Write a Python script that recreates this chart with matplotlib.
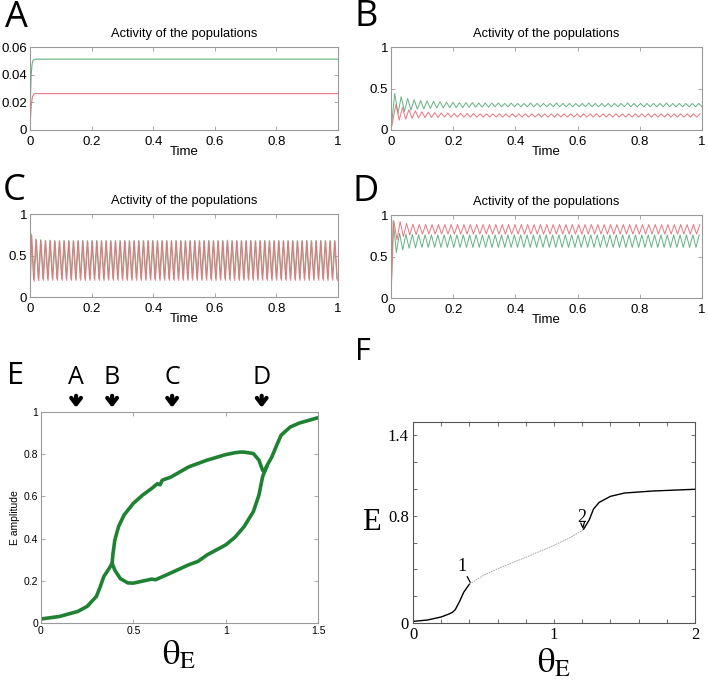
import numpy as np
import matplotlib
matplotlib.use("Agg")
import matplotlib.pyplot as plt

plt.rcParams['font.family'] = ['Liberation Sans', 'DejaVu Sans']
plt.rcParams['mathtext.fontset'] = 'stix'

# ---------------- data ----------------
# Panel A (steady state)
a_t = [0, 0.002, 0.004, 0.006, 0.008, 0.011, 0.015, 0.02, 0.03, 1.0]
a_green = [0, 0.028, 0.040, 0.046, 0.049, 0.0505, 0.0510, 0.0512, 0.0512, 0.0512]
a_red = [0, 0.010, 0.017, 0.021, 0.024, 0.0255, 0.0262, 0.0263, 0.0263, 0.0263]

# Panel B (damped oscillation) - extrema
b_period = 0.0208
b_green_first, b_red_first = 0.012, 0.016
b_green_peaks = [0.44, 0.40, 0.38, 0.365, 0.355, 0.35, 0.345, 0.34, 0.335, 0.335,
                 0.33, 0.33, 0.33, 0.325, 0.325, 0.325, 0.325, 0.32, 0.325, 0.32,
                 0.32, 0.325, 0.32, 0.32, 0.32, 0.325, 0.32, 0.32, 0.32, 0.32,
                 0.325, 0.32, 0.32, 0.32, 0.32, 0.32, 0.325, 0.32, 0.32, 0.32,
                 0.32, 0.32, 0.325, 0.32, 0.32, 0.32, 0.32, 0.32]
b_green_troughs = [0.20, 0.225, 0.24, 0.25, 0.255, 0.26, 0.265, 0.265, 0.27, 0.27,
                   0.27, 0.275, 0.275, 0.275, 0.275, 0.28, 0.28, 0.28, 0.28, 0.28,
                   0.28, 0.28, 0.28, 0.28, 0.28, 0.28, 0.28, 0.28, 0.28, 0.28,
                   0.28, 0.28, 0.28, 0.28, 0.28, 0.28, 0.28, 0.28, 0.28, 0.28,
                   0.28, 0.28, 0.28, 0.28, 0.28, 0.28, 0.28, 0.28]
b_red_peaks = [0.31, 0.27, 0.245, 0.23, 0.22, 0.215, 0.21, 0.205, 0.205, 0.20,
               0.20, 0.20, 0.20, 0.195, 0.195, 0.195, 0.195, 0.195, 0.195, 0.195,
               0.195, 0.195, 0.195, 0.195, 0.195, 0.195, 0.195, 0.195, 0.195, 0.195,
               0.195, 0.195, 0.195, 0.195, 0.195, 0.195, 0.195, 0.195, 0.195, 0.195,
               0.195, 0.195, 0.195, 0.195, 0.195, 0.195, 0.195, 0.195]
b_red_troughs = [0.12, 0.13, 0.14, 0.145, 0.15, 0.15, 0.15, 0.155, 0.155, 0.155,
                 0.155, 0.155, 0.155, 0.155, 0.155, 0.155, 0.155, 0.155, 0.155, 0.155,
                 0.155, 0.155, 0.155, 0.155, 0.155, 0.155, 0.155, 0.155, 0.155, 0.155,
                 0.155, 0.155, 0.155, 0.155, 0.155, 0.155, 0.155, 0.155, 0.155, 0.155,
                 0.155, 0.155, 0.155, 0.155, 0.155, 0.155, 0.155, 0.155]

# Panel C (sustained oscillation)
c_period = 0.01515
c_green_first, c_red_first = 0.004, 0.0058
c_green_peaks = [0.76, 0.70, 0.69, 0.685, 0.685, 0.68, 0.68, 0.68, 0.68, 0.68,
                 0.68, 0.68, 0.68, 0.68, 0.68, 0.68, 0.68, 0.68, 0.68, 0.68,
                 0.68, 0.68, 0.68, 0.68, 0.68, 0.68, 0.68, 0.68, 0.68, 0.68,
                 0.68, 0.68, 0.68, 0.68, 0.68, 0.68, 0.68, 0.68, 0.68, 0.68,
                 0.68, 0.68, 0.685, 0.68, 0.68, 0.68, 0.68, 0.68, 0.68, 0.68,
                 0.68, 0.68, 0.68, 0.68, 0.68, 0.68, 0.68, 0.68, 0.68, 0.68,
                 0.68, 0.68, 0.68, 0.68, 0.68, 0.68]
c_green_troughs = [0.21, 0.215, 0.22, 0.22, 0.22, 0.22, 0.22, 0.22, 0.22, 0.22,
                   0.22, 0.22, 0.22, 0.22, 0.22, 0.22, 0.22, 0.22, 0.22, 0.22,
                   0.22, 0.22, 0.22, 0.22, 0.22, 0.22, 0.22, 0.22, 0.22, 0.22,
                   0.22, 0.22, 0.22, 0.22, 0.22, 0.22, 0.22, 0.22, 0.22, 0.22,
                   0.22, 0.22, 0.22, 0.22, 0.22, 0.22, 0.22, 0.22, 0.22, 0.22,
                   0.22, 0.22, 0.22, 0.22, 0.22, 0.22, 0.22, 0.22, 0.22, 0.22,
                   0.22, 0.22, 0.22, 0.22, 0.22, 0.22]
c_red_peaks = [0.74, 0.69, 0.68, 0.675, 0.675, 0.675, 0.675, 0.675, 0.675, 0.675,
               0.675, 0.675, 0.675, 0.675, 0.675, 0.675, 0.675, 0.675, 0.675, 0.675,
               0.675, 0.675, 0.675, 0.675, 0.675, 0.675, 0.675, 0.675, 0.675, 0.675,
               0.675, 0.675, 0.675, 0.675, 0.675, 0.675, 0.675, 0.675, 0.675, 0.675,
               0.675, 0.675, 0.675, 0.675, 0.675, 0.675, 0.675, 0.675, 0.675, 0.675,
               0.675, 0.675, 0.675, 0.675, 0.675, 0.675, 0.675, 0.675, 0.675, 0.675,
               0.675, 0.675, 0.675, 0.675, 0.675, 0.675]
c_red_troughs = [0.19, 0.195, 0.20, 0.20, 0.20, 0.20, 0.20, 0.20, 0.20, 0.20,
                 0.20, 0.20, 0.20, 0.20, 0.20, 0.20, 0.20, 0.20, 0.20, 0.20,
                 0.20, 0.20, 0.20, 0.20, 0.20, 0.20, 0.20, 0.20, 0.20, 0.20,
                 0.20, 0.20, 0.20, 0.20, 0.20, 0.20, 0.20, 0.20, 0.20, 0.20,
                 0.20, 0.20, 0.20, 0.20, 0.20, 0.20, 0.20, 0.20, 0.20, 0.20,
                 0.20, 0.20, 0.20, 0.20, 0.20, 0.20, 0.20, 0.20, 0.20, 0.20,
                 0.20, 0.20, 0.20, 0.20, 0.20, 0.20]

# Panel D (high-activity oscillation)
d_period = 0.0205
d_green_first, d_red_first = 0.007, 0.009
d_green_peaks = [0.93, 0.78, 0.77, 0.765, 0.76, 0.76, 0.76, 0.76, 0.76, 0.76,
                 0.76, 0.76, 0.76, 0.76, 0.76, 0.76, 0.76, 0.76, 0.76, 0.76,
                 0.76, 0.76, 0.76, 0.76, 0.76, 0.76, 0.76, 0.76, 0.76, 0.76,
                 0.76, 0.76, 0.76, 0.76, 0.76, 0.76, 0.76, 0.76, 0.76, 0.76,
                 0.76, 0.76, 0.76, 0.76, 0.76, 0.76, 0.76, 0.76, 0.76]
d_green_troughs = [0.55, 0.58, 0.60, 0.605, 0.61, 0.61, 0.61, 0.61, 0.61, 0.61,
                   0.61, 0.61, 0.61, 0.61, 0.61, 0.61, 0.61, 0.61, 0.61, 0.61,
                   0.61, 0.61, 0.61, 0.61, 0.61, 0.61, 0.61, 0.61, 0.61, 0.61,
                   0.61, 0.61, 0.61, 0.61, 0.61, 0.61, 0.61, 0.61, 0.61, 0.61,
                   0.61, 0.61, 0.61, 0.61, 0.61, 0.61, 0.61, 0.61]
d_red_peaks = [0.93, 0.92, 0.90, 0.89, 0.885, 0.885, 0.885, 0.885, 0.885, 0.885,
               0.885, 0.885, 0.885, 0.885, 0.885, 0.885, 0.885, 0.885, 0.885, 0.885,
               0.885, 0.885, 0.885, 0.885, 0.885, 0.885, 0.885, 0.885, 0.885, 0.885,
               0.885, 0.885, 0.885, 0.885, 0.885, 0.885, 0.885, 0.885, 0.885, 0.885,
               0.885, 0.885, 0.885, 0.885, 0.885, 0.885, 0.885, 0.885, 0.885]
d_red_troughs = [0.70, 0.74, 0.76, 0.765, 0.77, 0.77, 0.77, 0.77, 0.77, 0.77,
                 0.77, 0.77, 0.77, 0.77, 0.77, 0.77, 0.77, 0.77, 0.77, 0.77,
                 0.77, 0.77, 0.77, 0.77, 0.77, 0.77, 0.77, 0.77, 0.77, 0.77,
                 0.77, 0.77, 0.77, 0.77, 0.77, 0.77, 0.77, 0.77, 0.77, 0.77,
                 0.77, 0.77, 0.77, 0.77, 0.77, 0.77, 0.77, 0.77]

# Panel E (amplitude diagram)
e_lower_x = [0, 0.1, 0.2, 0.25, 0.3, 0.32, 0.34, 0.37, 0.385, 0.4, 0.43, 0.47, 0.5,
             0.6, 0.62, 0.7, 0.8, 0.85, 0.9, 1.0, 1.05, 1.1, 1.15, 1.18, 1.2, 1.22,
             1.25, 1.28, 1.3, 1.35, 1.4, 1.5]
e_lower_y = [0.019, 0.031, 0.055, 0.079, 0.126, 0.17, 0.22, 0.26, 0.283, 0.25, 0.21,
             0.19, 0.189, 0.208, 0.205, 0.236, 0.276, 0.292, 0.323, 0.37, 0.406, 0.457,
             0.528, 0.606, 0.693, 0.74, 0.787, 0.85, 0.89, 0.929, 0.948, 0.973]
e_upper_x = [0.385, 0.39, 0.4, 0.42, 0.45, 0.5, 0.55, 0.6, 0.63, 0.645, 0.655, 0.665,
             0.7, 0.72, 0.8, 0.9, 1.0, 1.05, 1.08, 1.1, 1.15, 1.18, 1.2, 1.21, 1.225]
e_upper_y = [0.283, 0.33, 0.394, 0.457, 0.512, 0.567, 0.606, 0.638, 0.66, 0.655, 0.675,
             0.68, 0.69, 0.70, 0.74, 0.772, 0.798, 0.807, 0.81, 0.81, 0.803, 0.772,
             0.724, 0.717, 0.745]
e_marks = ['A', 'B', 'C', 'D']
e_mark_x = [0.19, 0.385, 0.71, 1.195]

# Panel F (bifurcation diagram)
f_stable1_x = [0, 0.1, 0.2, 0.25, 0.28, 0.3, 0.33, 0.36, 0.4]
f_stable1_y = [0.012, 0.022, 0.045, 0.065, 0.08, 0.1, 0.16, 0.23, 0.29]
f_unstable_x = [0.4, 0.5, 0.6, 0.8, 1.0, 1.1, 1.2, 1.21]
f_unstable_y = [0.29, 0.356, 0.405, 0.49, 0.58, 0.63, 0.69, 0.70]
f_stable2_x = [1.21, 1.25, 1.28, 1.32, 1.4, 1.5, 1.7, 2.0]
f_stable2_y = [0.70, 0.77, 0.85, 0.90, 0.945, 0.97, 0.985, 0.998]


def zigzag(t_first, period, peaks, troughs):
    t, y = [0.0], [0.0]
    for k in range(max(len(peaks), len(troughs))):
        tp = t_first + k * period
        if k < len(peaks) and tp <= 1.0:
            t.append(tp); y.append(peaks[k])
        tt = tp + period / 2
        if k < len(troughs) and tt <= 1.0:
            t.append(tt); y.append(troughs[k])
    return t, y


GREEN = '#62b282'
RED = '#ea7580'
FRAME = '#9a9a9a'

fig = plt.figure(figsize=(7.08, 6.82), dpi=100)
W, H = 708.0, 682.0


def ax_px(l, t, r, b):
    return fig.add_axes([l / W, 1 - b / H, (r - l) / W, (b - t) / H])


def style_ts(ax, yticks, ylabels):
    ax.set_xlim(0, 1)
    ax.set_xticks([0, 0.2, 0.4, 0.6, 0.8, 1])
    ax.set_xticklabels(['0', '0.2', '0.4', '0.6', '0.8', '1'])
    ax.set_yticks(yticks)
    ax.set_yticklabels(ylabels)
    ax.tick_params(direction='in', top=True, right=True, length=3, width=0.6,
                   labelsize=9.5, colors='black', pad=2)
    ax.tick_params(axis='x', pad=4)
    for s in ax.spines.values():
        s.set_color(FRAME); s.set_linewidth(0.8)
    ax.tick_params(color=FRAME)
    ax.set_title('Activity of the populations', fontsize=9.3, pad=7)
    ax.set_xlabel('Time', fontsize=9.5, labelpad=-1)


# A
axA = ax_px(30, 47, 338, 130)
axA.plot(a_t, a_green, color=GREEN, lw=0.8)
axA.plot(a_t, a_red, color=RED, lw=0.8)
axA.set_ylim(0, 0.06)
style_ts(axA, [0, 0.02, 0.04, 0.06], ['0', '0.02', '0.04', '0.06'])

# B
axB = ax_px(391, 47, 702, 130)
axB.plot(*zigzag(b_green_first, b_period, b_green_peaks, b_green_troughs), color=GREEN, lw=0.7)
axB.plot(*zigzag(b_red_first, b_period, b_red_peaks, b_red_troughs), color=RED, lw=0.7)
axB.set_ylim(0, 1)
style_ts(axB, [0, 0.5, 1], ['0', '0.5', '1'])

# C
axC = ax_px(30, 214, 338, 297)
axC.plot(*zigzag(c_green_first, c_period, c_green_peaks, c_green_troughs), color=GREEN, lw=0.7)
axC.plot(*zigzag(c_red_first, c_period, c_red_peaks, c_red_troughs), color=RED, lw=0.7)
axC.set_ylim(0, 1)
style_ts(axC, [0, 0.5, 1], ['0', '0.5', '1'])

# D
axD = ax_px(391, 215, 702, 298)
axD.plot(*zigzag(d_green_first, d_period, d_green_peaks, d_green_troughs), color=GREEN, lw=0.7)
axD.plot(*zigzag(d_red_first, d_period, d_red_peaks, d_red_troughs), color=RED, lw=0.7)
axD.set_ylim(0, 1)
style_ts(axD, [0, 0.5, 1], ['0', '0.5', '1'])

THETA = r'$\mathrm{\theta}_{\mathrm{E}}$'

# E
axE = ax_px(41, 412, 318, 623)
axE.plot(e_lower_x, e_lower_y, color='#1f8232', lw=2.6, solid_capstyle='round')
axE.plot(e_upper_x, e_upper_y, color='#1f8232', lw=2.6, solid_capstyle='round')
axE.set_xlim(0, 1.5)
axE.set_ylim(0, 1)
axE.set_xticks([0, 0.5, 1, 1.5])
axE.set_xticklabels(['0', '0.5', '1', '1.5'])
axE.set_yticks([0, 0.2, 0.4, 0.6, 0.8, 1])
axE.set_yticklabels(['0', '0.2', '0.4', '0.6', '0.8', '1'])
axE.tick_params(direction='in', top=True, right=True, length=3, width=0.6,
                labelsize=7.5, color=FRAME, pad=2)
for s in axE.spines.values():
    s.set_color(FRAME); s.set_linewidth(0.8)
axE.set_ylabel('E amplitude', fontsize=7.5, labelpad=3)
axE.set_xlabel(THETA, fontsize=25, labelpad=2)
for m, xm in zip(e_marks, e_mark_x):
    axE.annotate('', xy=(xm, 1.008), xycoords=('data', 'axes fraction'),
                 xytext=(xm, 1.09), textcoords=('data', 'axes fraction'),
                 arrowprops=dict(arrowstyle='->,head_length=0.45,head_width=0.35',
                                 lw=3.0, color='black'),
                 annotation_clip=False)
    axE.text(xm, 1.165, m, transform=axE.get_xaxis_transform(), ha='center',
             va='center', fontsize=18, family=['Open Sans', 'DejaVu Sans'])

# F
axF = ax_px(413, 422, 695, 623)
axF.plot(f_stable1_x, f_stable1_y, color='black', lw=1.0)
axF.plot(f_unstable_x, f_unstable_y, color='#999999', lw=0.6, ls=(0, (2, 1)))
axF.plot(f_stable2_x, f_stable2_y, color='black', lw=1.0)
axF.set_xlim(0, 2)
axF.set_ylim(0, 1.5)
fx = [0, 0.2, 0.4, 0.6, 0.8, 1.0, 1.2, 1.4, 1.6, 1.8, 2.0]
axF.set_xticks(fx)
axF.set_xticklabels(['0', '', '', '', '', '1', '', '', '', '', '2'])
fy = [0, 0.2, 0.4, 0.6, 0.8, 1.0, 1.2, 1.4]
axF.set_yticks(fy)
axF.set_yticklabels(['0', '', '', '', '0.8', '', '', '1.4'])
axF.tick_params(direction='in', top=True, right=True, length=3, width=0.6,
                labelsize=12, color='#555555', pad=3)
for lab in axF.get_xticklabels() + axF.get_yticklabels():
    lab.set_family(['Liberation Serif', 'DejaVu Serif'])
for s in axF.spines.values():
    s.set_color('#555555'); s.set_linewidth(0.8)
axF.set_ylabel('E', fontsize=22, rotation=0, labelpad=12, va='center',
               family=['Liberation Serif', 'DejaVu Serif'])
axF.set_xlabel(THETA, fontsize=25, labelpad=2)
axF.text(0.345, 0.42, '1', fontsize=13, ha='center', va='center',
         family=['Liberation Serif', 'DejaVu Serif'])
axF.plot([0.385, 0.405], [0.345, 0.305], color='black', lw=0.9)
axF.text(1.195, 0.785, '2', fontsize=13, ha='center', va='center',
         family=['Liberation Serif', 'DejaVu Serif'])
axF.plot([1.19, 1.205, 1.215], [0.745, 0.71, 0.75], color='black', lw=0.9)

# panel letters
letter_font = ['Open Sans', 'DejaVu Sans']
for lab, x, y, fs in [('A', 16, 18, 26), ('B', 366, 17, 26), ('C', 14, 191, 26),
                      ('D', 366, 192, 26), ('E', 15, 376, 22), ('F', 363, 352, 22)]:
    fig.text(x / W, 1 - y / H, lab, fontsize=fs, ha='center', va='center',
             family=letter_font)

fig.savefig('out.png', dpi=100)
